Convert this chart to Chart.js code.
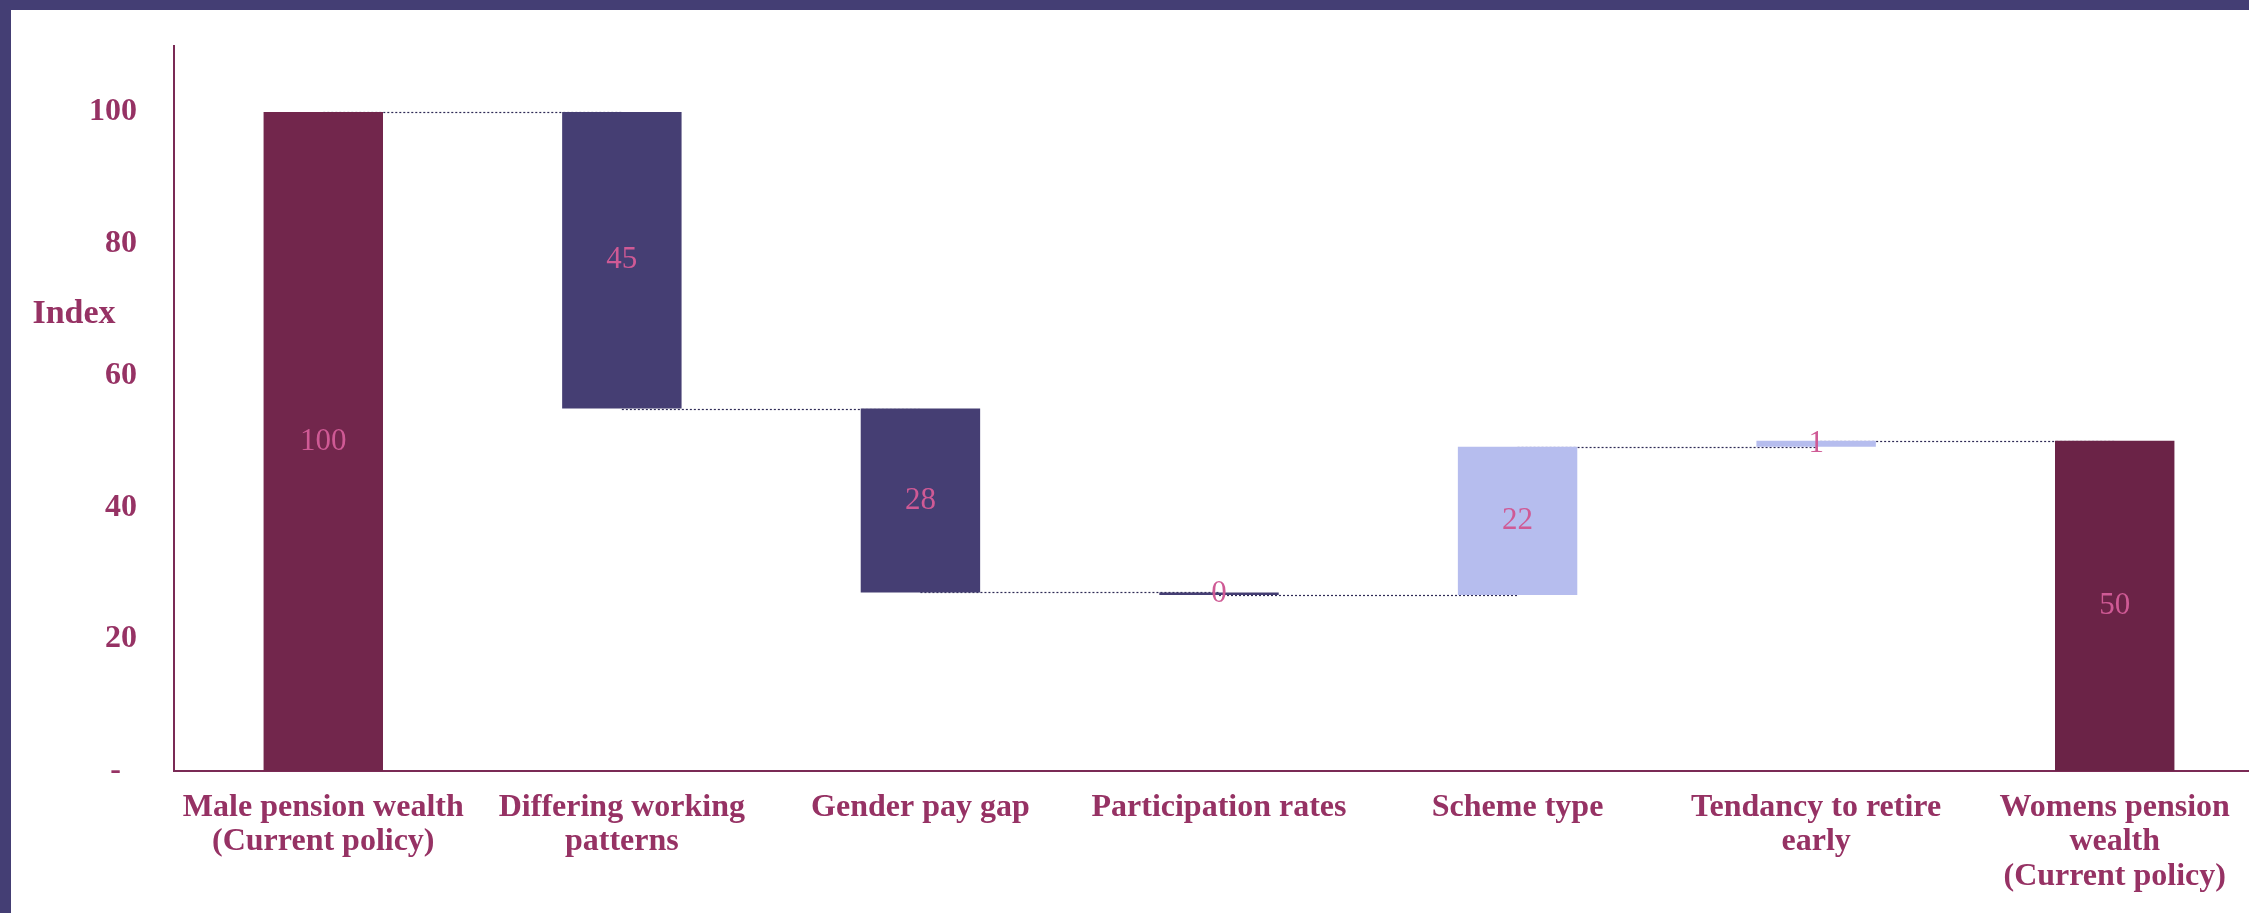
<!DOCTYPE html>
<html>
<head>
<meta charset="utf-8">
<script src="https://cdn.jsdelivr.net/npm/chart.js@4/dist/chart.umd.min.js"></script>
<style>
  html, body { margin: 0; padding: 0; overflow: hidden; background: #443e74; }
  #wrap { position: absolute; left: 11px; top: 10px; width: 2253px; height: 903px; background: #ffffff; }
</style>
</head>
<body>
<div id="wrap"><canvas id="pensionChart" width="2253" height="903"></canvas></div>
<script>
// categories, bars (start / end of each floating bar) and their printed values
const categories = [
    ['Male pension wealth', '(Current policy)'],
    ['Differing working', 'patterns'],
    'Gender pay gap',
    'Participation rates',
    'Scheme type',
    ['Tendancy to retire', 'early'],
    ['Womens pension', 'wealth', '(Current policy)']
];
const barStart = [0, 100, 55, 27.1, 26.7, 49.2, 0];
const barEnd = [100, 55, 27.1, 26.7, 49.2, 50.1, 50.1];
const valueLabels = ['100', '45', '28', '0', '22', '1', '50'];
const yTicks = [0, 20, 40, 60, 80, 100];

const barColors = ['#72264c', '#453e73', '#453e73', '#453e73', '#b6bdee', '#b6bdee', '#6b2347'];
const textColor = '#963264';

const waterfallExtras = {
    id: 'waterfallExtras',
    beforeDatasetsDraw(chart) {
        // dotted connectors from one bar's end to the next bar's centre
        const ctx = chart.ctx;
        const x = chart.scales.x, y = chart.scales.y;
        ctx.save();
        ctx.setLineDash([2, 2]);
        ctx.lineWidth = 1.2;
        ctx.strokeStyle = '#2e2a55';
        for (let i = 0; i < barEnd.length - 1; i++) {
            const py = Math.round(y.getPixelForValue(barEnd[i])) + 0.5;
            ctx.beginPath();
            ctx.moveTo(x.getPixelForValue(i), py);
            ctx.lineTo(x.getPixelForValue(i + 1), py);
            ctx.stroke();
        }
        ctx.restore();
    },
    afterDatasetsDraw(chart) {
        const ctx = chart.ctx;
        const meta = chart.getDatasetMeta(0);
        ctx.save();
        ctx.font = '31px "Liberation Serif"';
        ctx.fillStyle = '#cf5a95';
        ctx.textAlign = 'center';
        ctx.textBaseline = 'middle';
        meta.data.forEach((bar, i) => {
            ctx.fillText(valueLabels[i], bar.x, (bar.y + bar.base) / 2);
        });
        // axis title written horizontally, left of the ticks
        ctx.font = 'bold 34px "Liberation Serif"';
        ctx.fillStyle = textColor;
        ctx.fillText('Index', 63, 304);
        ctx.restore();
    }
};

const ctx = document.getElementById('pensionChart').getContext('2d');
const pensionChart = new Chart(ctx, {
    type: 'bar',
    data: {
        labels: categories,
        datasets: [{
            label: 'Index',
            data: barStart.map((s, i) => [s, barEnd[i]]),
            backgroundColor: barColors,
            borderWidth: 0,
            barPercentage: 0.4,
            categoryPercentage: 1.0
        }]
    },
    options: {
        responsive: false,
        animation: false,
        layout: { padding: { top: 36, left: 0, right: 0, bottom: 0 } },
        plugins: {
            legend: { display: false },
            tooltip: { enabled: false }
        },
        scales: {
            x: {
                grid: { display: false, drawTicks: false },
                border: { display: true, color: '#7a2a55', width: 2 },
                ticks: {
                    color: textColor,
                    padding: 19,
                    maxRotation: 0,
                    autoSkip: false,
                    font: { family: 'Liberation Serif', size: 32, weight: 'bold', lineHeight: 1.08 }
                },
                afterFit: function(scale) { scale.height = 142; }
            },
            y: {
                min: 0,
                max: 110,
                grid: { display: false, drawTicks: false },
                border: { display: true, color: '#7a2a55', width: 2 },
                afterBuildTicks: function(scale) {
                    scale.ticks = yTicks.map(v => ({ value: v }));
                },
                ticks: {
                    color: textColor,
                    padding: 37,
                    font: { family: 'Liberation Serif', size: 32, weight: 'bold' },
                    callback: function(value) {
                        return value === 0 ? '-  ' : value;
                    }
                },
                afterFit: function(scale) {
                    scale.width = 163;
                    scale.paddingTop = 0;
                    scale.paddingBottom = 0;
                }
            }
        }
    },
    plugins: [waterfallExtras]
});
</script>
</body>
</html>
